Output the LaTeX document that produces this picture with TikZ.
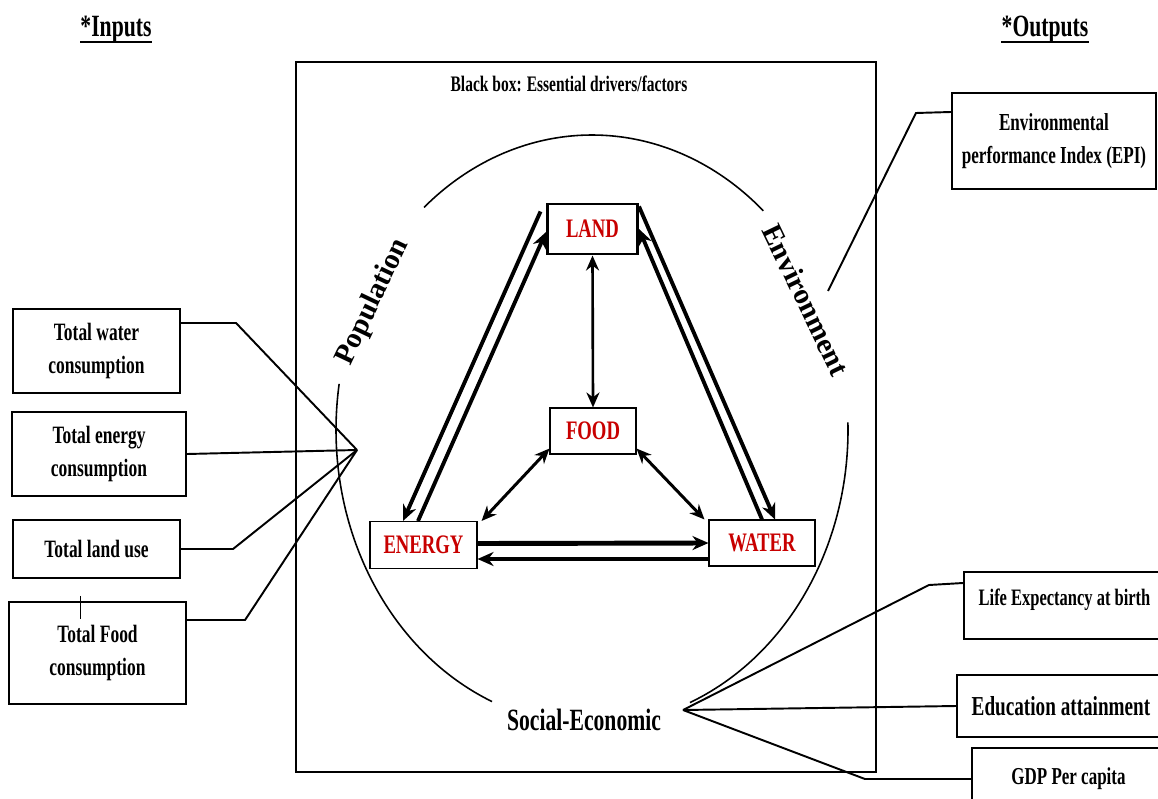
\documentclass[tikz,border=0pt]{standalone}
\usepackage{fontspec}
\setmainfont{Liberation Serif}[FakeStretch=0.7]
\newfontfamily\plainserif{Liberation Serif}
\usetikzlibrary{arrows.meta}
\definecolor{nexusred}{RGB}{200,0,0}

\begin{document}
\begin{tikzpicture}[x=0.2mm,y=-0.2mm,
  inbox/.style={draw,line width=1.2pt,inner sep=0,align=center,font=\bfseries\fontsize{14.2}{19}\selectfont},
  outbox/.style={draw,line width=1.2pt,inner sep=0,align=center},
  nexus/.style={draw,line width=0.6pt,inner sep=0,text=nexusred,font=\bfseries\fontsize{15.2}{18}\selectfont},
  head/.style={inner sep=0,font=\bfseries\fontsize{17.6}{20}\selectfont},
  conn/.style={line width=1.1pt},
  rim/.style={line width=0.9pt},
  flow/.style={line width=2.2pt,-{Stealth[length=3.2mm,width=2.8mm]}},
  both/.style={line width=1.7pt,{Stealth[length=3mm,width=2.6mm]}-{Stealth[length=3mm,width=2.6mm]}}]
\useasboundingbox (0,0) rectangle (1158,798);
% headings
\node[head] (inputs) at (116,30) {*Inputs};
\node[head] (outputs) at (1045,30) {*Outputs};
\draw[line width=1.2pt] ([yshift=-3pt]inputs.base west) -- ([yshift=-3pt]inputs.base east);
\draw[line width=1.2pt] ([yshift=-3pt]outputs.base west) -- ([yshift=-3pt]outputs.base east);
% the black box
\node[draw,line width=1.2pt,minimum width=116mm,minimum height=142mm,inner sep=0] (bbox) at (586,417) {};
\node[font=\bfseries\fontsize{12.6}{14}\selectfont] (bbtitle) at (569,84) {Black box: Essential drivers/factors};
% ring of drivers: three pieces of one ellipse
\def\ecx{592} \def\ecy{430} \def\ea{256} \def\eb{295}
\foreach \a/\b in {48/131,171/247,-67.5/1.5}
  \draw[rim] plot[domain=\a:\b,samples=60,smooth] ({\ecx+\ea*cos(\x)},{\ecy-\eb*sin(\x)});
\node[rotate=64.6,font=\plainserif\bfseries\fontsize{16.5}{18}\selectfont] (popl) at (373,302) {Population};
\node[rotate=-64.2,font=\plainserif\bfseries\fontsize{16.5}{18}\selectfont] (envl) at (806,300) {Environment};
\node[font=\bfseries\fontsize{17.6}{20}\selectfont] (socl) at (584,720) {Social-Economic};
\coordinate (pop) at (357,450);
\coordinate (soc) at (683,710);
\coordinate (env) at (828,291);
% nexus
\node[nexus,line width=1.7pt,minimum width=18mm,minimum height=10mm] (land) at (592.5,229) {LAND};
\node[nexus,minimum width=17.2mm,minimum height=9.2mm] (food) at (593,431) {FOOD};
\node[nexus,minimum width=21.4mm,minimum height=9.4mm] (energy) at (423.5,545) {ENERGY};
\node[nexus,minimum width=21.2mm,minimum height=9.2mm] (water) at (762,543) {WATER};
\draw[flow] ([xshift=-1.1mm,yshift=-1.8mm]land.north west) -- ([xshift=-4.1mm]energy.north);
\draw[flow] ([xshift=-1.1mm]energy.north) -- ([yshift=-0.6mm]land.west);
\draw[flow] ([yshift=-0.8mm]land.north east) -- ([xshift=2.6mm]water.north);
\draw[flow] (water.north) -- (land.east);
\draw[both,line width=1.5pt] (land.south) -- (food.north);
\draw[both] ([yshift=1.2mm]food.south west) -- ([xshift=0.8mm]energy.north east);
\draw[both] ([yshift=1.2mm]food.south east) -- ([xshift=-0.8mm]water.north west);
\draw[flow,line width=2.8pt] ([yshift=0.3mm]energy.east) -- (water.west);
\draw[flow,line width=2.8pt] ([yshift=-3.2mm]water.west) -- ([yshift=-2.8mm]energy.east);
% inputs
\foreach \nm/\px/\py/\w/\h/\txt in {
  tw/96.5/351/33.4/16.8/{Total water\\consumption},
  te/99/454/34.8/16.8/{Total energy\\consumption},
  tl/96.5/549/33.4/11.6/{Total land use},
  tf/97.5/653/35.4/20.4/{Total Food\\consumption}}
  \node[inbox,minimum width=\w mm,minimum height=\h mm] (\nm) at (\px,\py) {\txt};
\draw[line width=0.5pt] ([xshift=-3.5mm,yshift=1mm]tf.north) -- ++(0,23);
\draw[conn] ([yshift=5.6mm]tw.east) -- ++(55,0) -- (pop);
\draw[conn] (te.east) -- (pop);
\draw[conn] (tl.east) -- ++(52,0) -- (pop);
\draw[conn] ([yshift=6.6mm]tf.east) -- ++(58,0) -- (pop);
% outputs
\node[outbox,font=\bfseries\fontsize{13.9}{18.7}\selectfont,minimum width=40.8mm,minimum height=19.2mm] (epi) at (1054,141) {Environmental\\performance Index (EPI)};
\node[outbox,font=\bfseries\fontsize{13.4}{16}\selectfont,text depth=3.3mm,minimum width=40.2mm,minimum height=13.4mm] (life) at (1064.5,605.5) {Life Expectancy at birth};
\node[outbox,font=\bfseries\fontsize{15.6}{18}\selectfont,minimum width=41.6mm,minimum height=12.4mm] (edu) at (1061,706) {Education attainment};
\node[outbox,font=\bfseries\fontsize{13.8}{16}\selectfont,minimum width=38.6mm,minimum height=12.4mm] (gdp) at (1068.5,779) {GDP Per capita};
\draw[conn] ([yshift=5.8mm]epi.west) -- ++(-35,1) -- (env);
\draw[conn] ([yshift=4.5mm]life.west) -- ++(-34,2) -- (soc);
\draw[conn] (edu.west) -- (soc);
\draw[conn] (gdp.west) -- ++(-106,0) -- (soc);
\end{tikzpicture}
\end{document}
